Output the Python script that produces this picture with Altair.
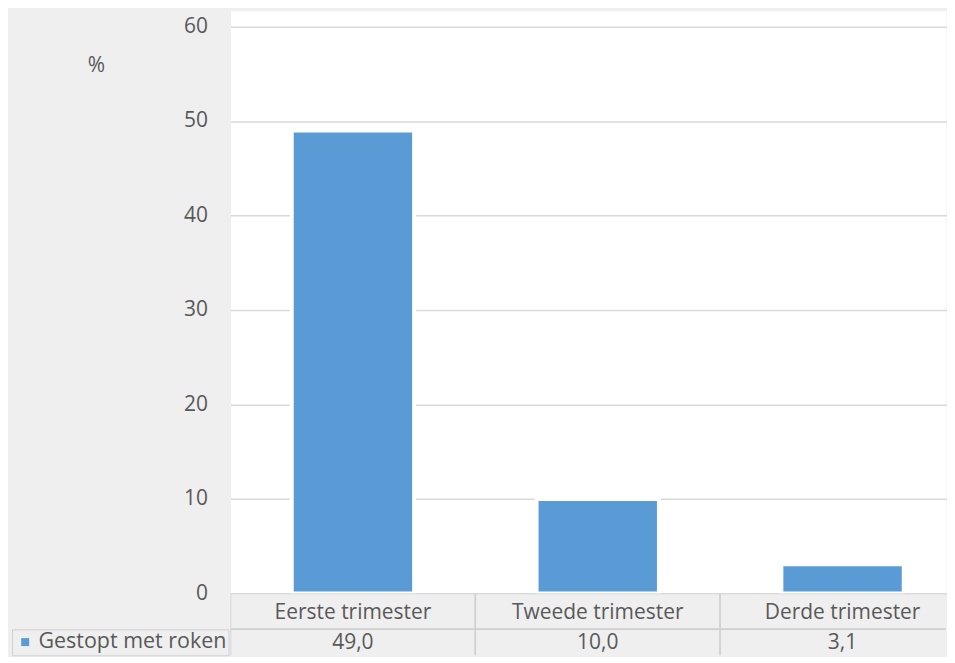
import altair as alt
import pandas as pd

categories = ["Eerste trimester", "Tweede trimester", "Derde trimester"]
values = [49.0, 10.0, 3.1]
series_name = "Gestopt met roken"
y_ticks = [0, 10, 20, 30, 40, 50, 60]
rows = ["header", "data"]

FONT = "Open Sans"
TXT = "#595959"
GRID = "#d9d9d9"
BORDER = "#d0d0d0"
BG = "#efefef"
BAR = "#5b9bd5"
FS = 21

bars_df = pd.DataFrame({
    "category": categories,
    "value": values,
    "series": [series_name] * len(categories),
})
value_labels = [f"{v:.1f}".replace(".", ",") for v in values]
table_df = pd.DataFrame({
    "category": categories * 2,
    "row": [rows[0]] * len(categories) + [rows[1]] * len(categories),
    "text": categories + value_labels,
})

bars = alt.Chart(bars_df).mark_bar(stroke="white", strokeWidth=4).encode(
    x=alt.X("category:N", sort=categories,
            scale=alt.Scale(domain=categories, range=[0, 736],
                            paddingInner=0.5, paddingOuter=0.25),
            axis=None),
    y=alt.Y("value:Q",
            scale=alt.Scale(domain=[0, 61.67], nice=False),
            axis=alt.Axis(values=y_ticks, grid=True, gridColor=GRID, gridWidth=1.5,
                          ticks=False, tickSize=0, domain=False, labelPadding=23,
                          labelFontSize=FS, labelColor=TXT, labelFont=FONT,
                          title="%", titleAngle=0, titleX=-135, titleY=55,
                          titleAlign="center", titleBaseline="middle",
                          titleFontSize=FS, titleFontWeight="normal",
                          titleColor=TXT, titleFont=FONT)),
    color=alt.Color("series:N", scale=alt.Scale(range=[BAR]),
                    legend=alt.Legend(orient="none", legendX=-219, legendY=620,
                                      title=None, symbolType="square", symbolSize=64,
                                      symbolStrokeWidth=0, symbolOpacity=1,
                                      labelFontSize=21.5, labelColor=TXT, labelFont=FONT,
                                      labelLimit=300, labelOffset=2.5, padding=2,
                                      strokeColor=BORDER, fillColor=BG,
                                      symbolOffset=0.5)),
).properties(width=717, height=584,
             view=alt.ViewBackground(fill="white", stroke="transparent"))

tx = alt.X("category:N", sort=categories,
           scale=alt.Scale(domain=categories, range=[0, 736],
                           paddingInner=0, paddingOuter=0), axis=None)
ty = alt.Y("row:N", sort=rows,
           scale=alt.Scale(domain=rows, range=[0, 72],
                           paddingInner=0, paddingOuter=0), axis=None)

cells = alt.Chart(table_df).mark_rect(fill=BG, stroke=BORDER, strokeWidth=1.5,
                                      clip=True).encode(x=tx, y=ty)
header_text = alt.Chart(table_df).transform_filter(
    alt.datum.row == rows[0]
).mark_text(font=FONT, fontSize=FS, color=TXT, baseline="middle", dy=2,
            clip=True).encode(x=tx, y=ty, text="text:N")
data_text = alt.Chart(table_df).transform_filter(
    alt.datum.row == rows[1]
).mark_text(font=FONT, fontSize=FS, color=TXT, baseline="middle", dy=-4,
            clip=True).encode(x=tx, y=ty, text="text:N")
table = alt.layer(cells, header_text, data_text).properties(
    width=717, height=62, view=alt.ViewBackground(fill=BG, stroke="transparent"))

chart = alt.vconcat(bars, table, spacing=0, bounds="flush").resolve_scale(
    color="independent").resolve_legend(color="independent").properties(
    padding={"left": 3, "top": 1, "right": 0, "bottom": 0}
).configure(background=BG, font=FONT)

chart.save("out.html", embed_options={"renderer": "svg", "actions": False})
